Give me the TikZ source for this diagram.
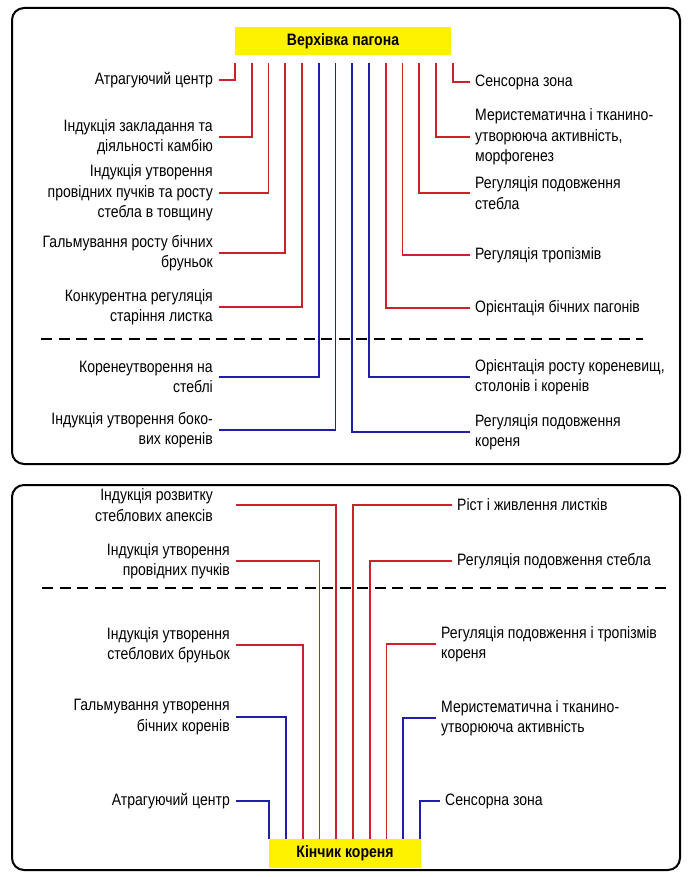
\documentclass[tikz,border=0pt]{standalone}
\usepackage{fontspec}
\setmainfont[FakeStretch=0.85]{Liberation Sans}
\usepackage{tikz}
\usepackage{xcolor}
\definecolor{wirered}{RGB}{205,32,45}
\definecolor{wireblue}{RGB}{30,30,170}

\begin{document}
\begin{tikzpicture}[x=1pt,y=-1pt,
  every node/.style={font=\fontsize{16.5}{20.5}\selectfont},
  lbl/.style={inner xsep=6pt,inner ysep=1pt},
  lleft/.style={lbl,anchor=east,align=right},
  lright/.style={lbl,anchor=west,align=left,inner xsep=5pt},
  tipbox/.style={fill=yellow,font=\fontsize{16.5}{20.5}\selectfont\bfseries,inner sep=0pt},
  redwire/.style={draw=wirered,line width=1.8pt},
  bluewire/.style={draw=wireblue,line width=1.8pt},
  panel/.style={draw=black,line width=2pt,rounded corners=12pt},
  divider/.style={draw=black,line width=2pt,dash pattern=on 11pt off 6.5pt}]
\useasboundingbox (0,0) rectangle (690,877);
\draw[panel] (12,8) rectangle (680,464);
\draw[panel] (12,485) rectangle (680,870);
\draw[divider] (41,339) -- (643,339);
\draw[divider] (42,588) -- (672,588);

% shoot apex
\node[tipbox,minimum width=216pt,minimum height=28pt] (apex) at (343,41) {Верхівка пагона};
\foreach \i in {1,...,14} \coordinate (t\i) at ({235+(\i-1)*16.75},63);

\node[lleft] (la) at (219,80) {Атрагуючий центр};
\node[lleft] (lb) at (219,137) {Індукція закладання та\\діяльності камбію};
\node[lleft] (lc) at (219,193) {Індукція утворення\\провідних пучків та росту\\стебла в товщину};
\node[lleft] (ld) at (219,253) {Гальмування росту бічних\\бруньок};
\node[lleft] (le) at (219,307) {Конкурентна регуляція\\старіння листка};
\node[lleft] (lf) at (219,377) {Коренеутворення на\\стеблі};
\node[lleft] (lg) at (219,430) {Індукція утворення боко-\\вих коренів};

\node[lright] (ra) at (470,82) {Сенсорна зона};
\node[lright] (rb) at (470,137) {Меристематична і тканино-\\утворююча активність,\\морфогенез};
\node[lright] (rc) at (470,193) {Регуляція подовження\\стебла};
\node[lright] (rd) at (470,255) {Регуляція тропізмів};
\node[lright] (re) at (470,308) {Орієнтація бічних пагонів};
\node[lright] (rf) at (470,377) {Орієнтація росту кореневищ,\\столонів і коренів};
\node[lright] (rg) at (470,432) {Регуляція подовження\\кореня};

\draw[redwire] (la.east) -| (t1);
\draw[redwire] (lb.east) -| (t2);
\draw[redwire] (lc.east) -| (t3);
\draw[redwire] (ld.east) -| (t4);
\draw[redwire] (le.east) -| (t5);
\draw[bluewire] (lf.east) -| (t6);
\draw[bluewire] (lg.east) -| (t7);
\draw[bluewire] (rg.west) -| (t8);
\draw[bluewire] (rf.west) -| (t9);
\draw[redwire] (re.west) -| (t10);
\draw[redwire] (rd.west) -| (t11);
\draw[redwire] (rc.west) -| (t12);
\draw[redwire] (rb.west) -| (t13);
\draw[redwire] (ra.west) -| (t14);

% root tip
\node[tipbox,minimum width=152pt,minimum height=29pt] (tip) at (345,853.5) {Кінчик кореня};
\foreach \i in {1,...,10} \coordinate (b\i) at ({269.3+(\i-1)*16.75},839);

\node[lleft] (bla) at (219,505) {Індукція розвитку\\стеблових апексів};
\node[lleft] (blb) at (236,561) {Індукція утворення\\провідних пучків};
\node[lleft] (blc) at (236,645) {Індукція утворення\\стеблових бруньок};
\node[lleft] (bld) at (236,717) {Гальмування утворення\\бічних коренів};
\node[lleft] (ble) at (236,801) {Атрагуючий центр};

\node[lright] (bra) at (452,505) {Ріст і живлення листків};
\node[lright] (brb) at (452,561) {Регуляція подовження стебла};
\node[lright] (brc) at (436,644) {Регуляція подовження і тропізмів\\кореня};
\node[lright] (brd) at (436,718) {Меристематична і тканино-\\утворююча активність};
\node[lright] (bre) at (440,801) {Сенсорна зона};

\draw[bluewire] (ble.east) -| (b1);
\draw[bluewire] (bld.east) -| (b2);
\draw[redwire] (blc.east) -| (b3);
\draw[redwire] (blb.east) -| (b4);
\draw[redwire] ([xshift=17pt]bla.east) -| (b5);
\draw[redwire] (bra.west) -| (b6);
\draw[redwire] (brb.west) -| (b7);
\draw[redwire] (brc.west) -| (b8);
\draw[bluewire] (brd.west) -| (b9);
\draw[bluewire] (bre.west) -| (b10);
\end{tikzpicture}
\end{document}
